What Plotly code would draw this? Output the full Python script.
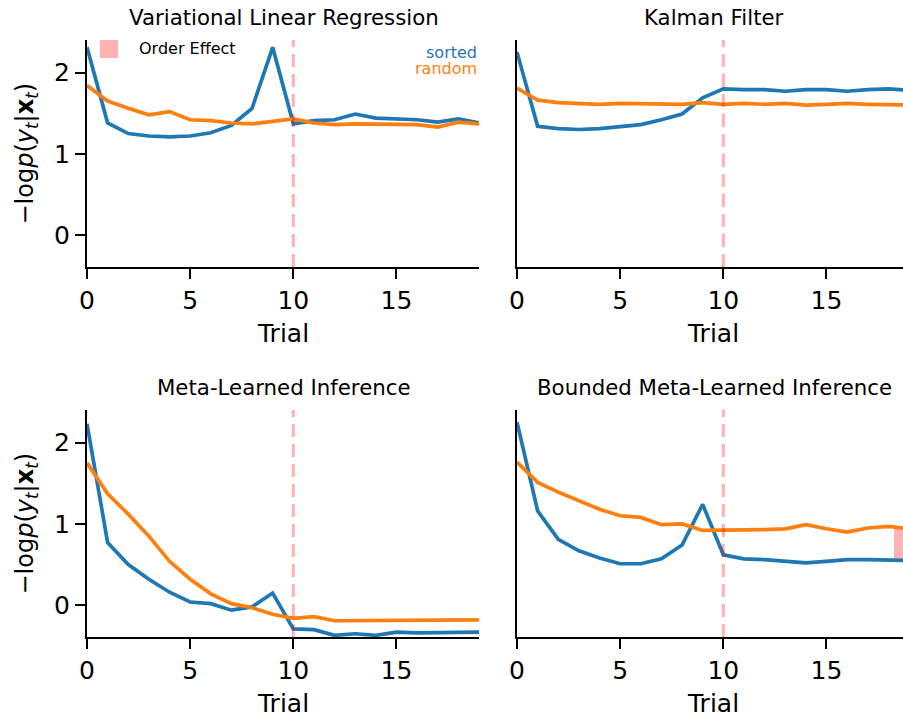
import plotly.graph_objects as go

W, H = 903, 718

trials = list(range(20))
titles = ["Variational Linear Regression", "Kalman Filter",
          "Meta-Learned Inference", "Bounded Meta-Learned Inference"]

vlr_sorted = [2.31, 1.38, 1.25, 1.22, 1.21, 1.22, 1.26, 1.35, 1.56, 2.31,
              1.37, 1.41, 1.42, 1.49, 1.44, 1.43, 1.42, 1.39, 1.43, 1.38]
vlr_random = [1.84, 1.65, 1.56, 1.48, 1.52, 1.42, 1.41, 1.38, 1.37, 1.40,
              1.43, 1.38, 1.36, 1.37, 1.37, 1.37, 1.36, 1.33, 1.39, 1.37]

kf_sorted = [2.25, 1.34, 1.31, 1.30, 1.31, 1.33, 1.36, 1.42, 1.49, 1.69,
             1.80, 1.79, 1.79, 1.77, 1.79, 1.79, 1.77, 1.79, 1.80, 1.78]
kf_random = [1.81, 1.66, 1.63, 1.62, 1.61, 1.62, 1.62, 1.61, 1.61, 1.63,
             1.61, 1.62, 1.61, 1.62, 1.60, 1.61, 1.62, 1.61, 1.60, 1.60]

mli_sorted = [2.23, 0.77, 0.50, 0.32, 0.16, 0.04, 0.02, -0.06, -0.02, 0.15,
              -0.29, -0.30, -0.37, -0.35, -0.37, -0.33, -0.34, -0.34, -0.34, -0.33]
mli_random = [1.75, 1.37, 1.12, 0.85, 0.54, 0.32, 0.14, 0.02, -0.03, -0.11,
              -0.16, -0.14, -0.19, -0.19, -0.18, -0.18, -0.18, -0.19, -0.19, -0.18]

bmli_sorted = [2.25, 1.16, 0.81, 0.67, 0.58, 0.51, 0.51, 0.57, 0.74, 1.24,
               0.62, 0.57, 0.56, 0.54, 0.52, 0.54, 0.56, 0.56, 0.56, 0.55]
bmli_random = [1.76, 1.51, 1.39, 1.28, 1.18, 1.10, 1.08, 0.99, 1.00, 0.92,
               0.92, 0.92, 0.93, 0.94, 0.99, 0.94, 0.90, 0.95, 0.97, 0.94]

series = [(vlr_sorted, vlr_random), (kf_sorted, kf_random),
          (mli_sorted, mli_random), (bmli_sorted, bmli_random)]

switch_trial = 10
x_ticks = [0, 5, 10, 15]
y_ticks = [0, 1, 2]
y_range = [-0.39, 2.40]

BLUE = "#1f77b4"
ORANGE = "#ff7f0e"
PINK = "rgba(255,0,0,0.3)"
FONT = "DejaVu Sans"


def px(x):
    return x / W


def py(y):
    return 1 - y / H


# plot-area boxes in pixels (left, right, top, bottom)
boxes = [(87, 479, 40, 267), (517, 903, 40, 267),
         (87, 479, 410, 637), (517, 903, 410, 637)]
unit = (479 - 87) / 19.0

fig = go.Figure()

# order effect bar (bottom-right panel, last trial)
last = trials[-1]
fig.add_trace(go.Bar(
    x=[last], y=[bmli_random[-1] - bmli_sorted[-1]], base=[bmli_sorted[-1]],
    width=[1.5], marker=dict(color=PINK, line=dict(width=0)),
    xaxis="x4", yaxis="y4", showlegend=False, name="Order Effect"))

for i, (s, r) in enumerate(series):
    k = "" if i == 0 else str(i + 1)
    fig.add_trace(go.Scatter(x=trials, y=s, mode="lines",
                             line=dict(color=BLUE, width=3.7),
                             xaxis="x" + k, yaxis="y" + k, showlegend=False,
                             name="sorted"))
    fig.add_trace(go.Scatter(x=trials, y=r, mode="lines",
                             line=dict(color=ORANGE, width=3.7),
                             xaxis="x" + k, yaxis="y" + k, showlegend=False,
                             name="random"))

layout = dict(width=W, height=H, margin=dict(l=0, r=0, t=0, b=0, pad=0),
              paper_bgcolor="white", plot_bgcolor="white",
              font=dict(family=FONT, color="black"), showlegend=False,
              bargap=0)

annotations = []
shapes = []
for i, (l, rr, t, b) in enumerate(boxes):
    k = "" if i == 0 else str(i + 1)
    left_col = i in (0, 2)
    xmax = (rr - l) / unit
    layout["xaxis" + k] = dict(
        domain=[px(l), px(rr)], range=[0, xmax], anchor="y" + k,
        automargin=False,
        showgrid=False, zeroline=False, showline=True, linecolor="black",
        linewidth=2, ticks="outside", ticklen=10, tickwidth=2,
        tickcolor="black", tickvals=x_ticks,
        tickfont=dict(size=25, family=FONT, color="black"))
    layout["yaxis" + k] = dict(
        domain=[py(b), py(t)], range=y_range, anchor="x" + k,
        automargin=False,
        showgrid=False, zeroline=False, showline=True, linecolor="black",
        linewidth=2, ticks="outside" if left_col else "",
        ticklen=10, tickwidth=2, tickcolor="black", tickvals=y_ticks,
        showticklabels=left_col,
        tickfont=dict(size=25, family=FONT, color="black"))
    # title
    annotations.append(dict(text=titles[i], x=px((l + l + 19 * unit) / 2 + 1),
                            y=py(t - 22), xref="paper", yref="paper",
                            showarrow=False, xanchor="center", yanchor="middle",
                            font=dict(size=21.3, family=FONT, color="black")))
    # x label
    annotations.append(dict(text="Trial", x=px((l + (l + 19 * unit)) / 2),
                            y=py(b + 66), xref="paper", yref="paper",
                            showarrow=False, xanchor="center", yanchor="middle",
                            font=dict(size=25, family=FONT, color="black")))
    if left_col:
        annotations.append(dict(
            text="−log<i>p</i>(<i>y</i><sub><i>t</i></sub>|<b>x</b><sub><i>t</i></sub>)",
            x=px(26), y=py((t + b) / 2), xref="paper", yref="paper",
            showarrow=False, textangle=-90, xanchor="center", yanchor="middle",
            font=dict(size=24, family=FONT, color="black")))
    # switch line
    shapes.append(dict(type="line", xref="x" + k, yref="y" + k + " domain",
                       x0=switch_trial, x1=switch_trial, y0=0, y1=1,
                       line=dict(color=PINK, width=3, dash="13px,7px"),
                       layer="above"))

# legend (top-left panel)
shapes.append(dict(type="rect", xref="paper", yref="paper",
                   x0=px(100), x1=px(118), y0=py(58), y1=py(40),
                   fillcolor=PINK, line=dict(width=0)))
annotations.append(dict(text="Order Effect", x=px(137), y=py(49),
                        xref="paper", yref="paper", showarrow=False,
                        xanchor="left", yanchor="middle",
                        font=dict(size=16, family=FONT, color="black")))
annotations.append(dict(text="sorted", x=px(479), y=py(52),
                        xref="paper", yref="paper", showarrow=False,
                        xanchor="right", yanchor="middle",
                        font=dict(size=16, family=FONT, color=BLUE)))
annotations.append(dict(text="random", x=px(479), y=py(68),
                        xref="paper", yref="paper", showarrow=False,
                        xanchor="right", yanchor="middle",
                        font=dict(size=16, family=FONT, color=ORANGE)))

layout["annotations"] = annotations
layout["shapes"] = shapes
fig.update_layout(**layout)

fig.write_html("out.html", config={"displayModeBar": False},
               post_script="document.body.style.margin='0';"
                           "document.body.style.padding='0';")
